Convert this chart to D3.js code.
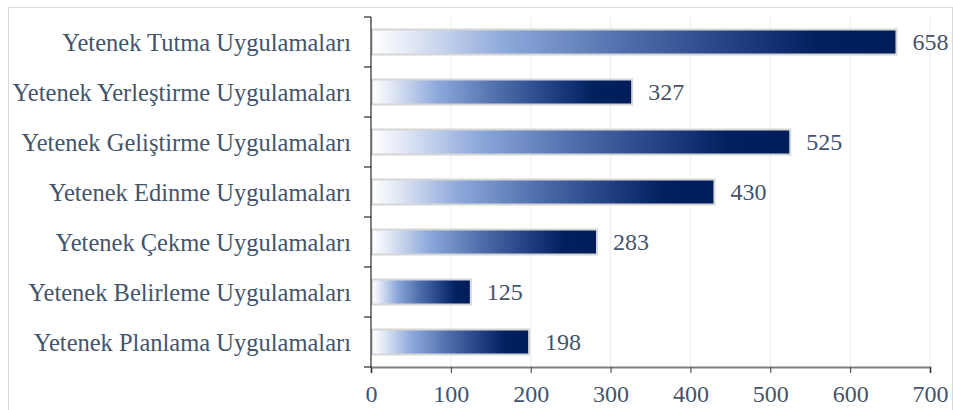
<!DOCTYPE html>
<html>
<head>
<meta charset="utf-8">
<script src="https://cdn.jsdelivr.net/npm/d3@7"></script>
<style>
  html, body { margin: 0; padding: 0; background: #fff; }
  svg { display: block; }
  text { font-family: "Liberation Serif", "Times New Roman", serif; fill: #44546a; }
</style>
</head>
<body>
<svg id="chart" width="953" height="410"></svg>
<script>
const categories = [
  "Yetenek Tutma Uygulamaları",
  "Yetenek Yerleştirme Uygulamaları",
  "Yetenek Geliştirme Uygulamaları",
  "Yetenek Edinme Uygulamaları",
  "Yetenek Çekme Uygulamaları",
  "Yetenek Belirleme Uygulamaları",
  "Yetenek Planlama Uygulamaları"
];
const values = [658, 327, 525, 430, 283, 125, 198];
const xTicks = [0, 100, 200, 300, 400, 500, 600, 700];

const svg = d3.select("#chart");
const W = 953, H = 410;
const margin = { left: 371, right: 23, top: 17, bottom: 43 };
const fontSize = 24;

// outer frame
svg.append("rect")
  .attr("x", 8.5).attr("y", 7.5)
  .attr("width", W - 9).attr("height", H - 7)
  .attr("fill", "none").attr("stroke", "#d9d9d9").attr("stroke-width", 1);

const x = d3.scaleLinear().domain([0, 700]).range([margin.left, W - margin.right]);
const y = d3.scaleBand().domain(categories).range([margin.top, H - margin.bottom]).paddingInner(0.5).paddingOuter(0.25);

// horizontal gradient per bar
const defs = svg.append("defs");
const grad = defs.append("linearGradient").attr("id", "barGrad")
  .attr("x1", "0%").attr("x2", "100%").attr("y1", "0%").attr("y2", "0%");
[
  [0, "#ffffff"], [0.08, "#dfe6f4"], [0.25, "#8ea9db"], [0.5, "#4a6aa8"],
  [0.7, "#203f82"], [0.85, "#00205f"], [1, "#001d5a"]
].forEach(([o, c]) => grad.append("stop").attr("offset", o).attr("stop-color", c));

// vertical gridlines
svg.append("g").selectAll("line").data(xTicks.slice(1)).join("line")
  .attr("x1", d => x(d)).attr("x2", d => x(d))
  .attr("y1", margin.top).attr("y2", H - margin.bottom)
  .attr("stroke", "#ececec").attr("stroke-width", 1);

// bars
svg.append("g").selectAll("rect").data(values).join("rect")
  .attr("x", x(0) + 1)
  .attr("y", (d, i) => y(categories[i]))
  .attr("width", d => x(d) - x(0) - 1)
  .attr("height", y.bandwidth())
  .attr("fill", "url(#barGrad)")
  .attr("stroke", "#d6d6d6").attr("stroke-width", 2);

// value labels
svg.append("g").selectAll("text").data(values).join("text")
  .attr("x", d => x(d) + 16)
  .attr("y", (d, i) => y(categories[i]) + y.bandwidth() / 2)
  .attr("dy", "0.35em")
  .attr("font-size", fontSize)
  .text(d => d);

// x axis
const xAxis = svg.append("g")
  .attr("transform", `translate(0,${H - margin.bottom})`)
  .call(d3.axisBottom(x).tickValues(xTicks).tickSize(6).tickPadding(12));
xAxis.select(".domain").attr("stroke", "#7f7f7f").attr("stroke-width", 2);
xAxis.selectAll(".tick line").attr("stroke", "#3a3a3a");
xAxis.selectAll(".tick text").attr("font-size", fontSize).attr("fill", "#44546a")
  .attr("font-family", "Liberation Serif, Times New Roman, serif");

// y axis: ticks at band boundaries
const yAxisG = svg.append("g");
yAxisG.append("line")
  .attr("x1", x(0)).attr("x2", x(0))
  .attr("y1", margin.top).attr("y2", H - margin.bottom)
  .attr("stroke", "#000").attr("stroke-width", 1);
const step = y.step();
const boundaries = d3.range(categories.length + 1).map(i => margin.top + i * step);
yAxisG.selectAll(".yt").data(boundaries).join("line")
  .attr("x1", x(0) - 7).attr("x2", x(0))
  .attr("y1", d => d).attr("y2", d => d)
  .attr("stroke", "#000").attr("stroke-width", 1);

// category labels
svg.append("g").selectAll("text").data(categories).join("text")
  .attr("x", 351)
  .attr("y", d => y(d) + y.bandwidth() / 2)
  .attr("dy", "0.35em")
  .attr("text-anchor", "end")
  .attr("font-size", 24.5)
  .text(d => d);
</script>
</body>
</html>
